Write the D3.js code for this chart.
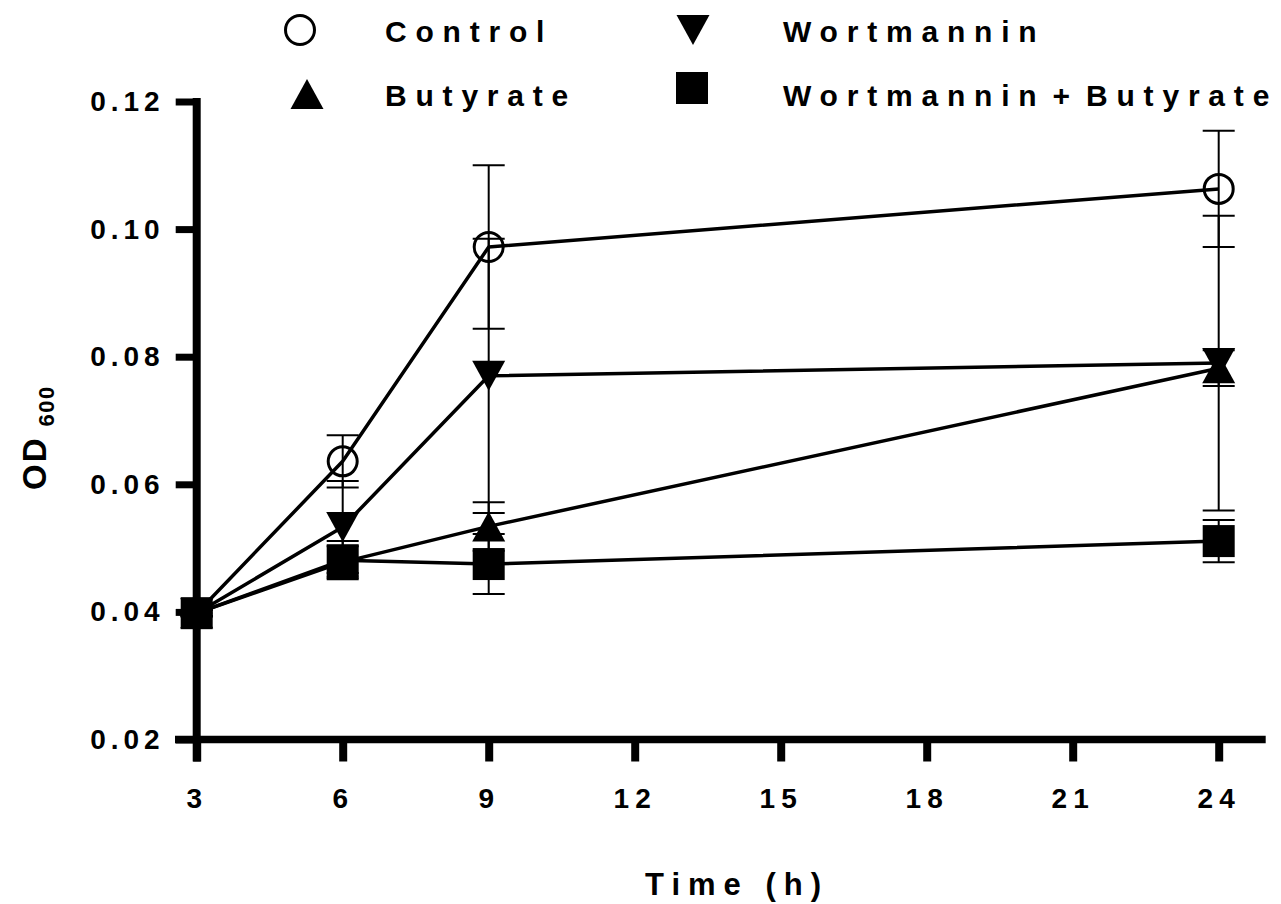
<!DOCTYPE html>
<html>
<head>
<meta charset="utf-8">
<script src="https://cdn.jsdelivr.net/npm/d3@7"></script>
<style>
  html, body { margin: 0; padding: 0; background: #fff; }
  svg { display: block; }
  text { font-family: "Liberation Sans", Arial, sans-serif; font-weight: bold; fill: #000; }
</style>
</head>
<body>
<svg id="chart" width="1281" height="904"></svg>
<script>
// ---- data ----
const times = [3, 6, 9, 24];
const seriesNames = ["Control", "Wortmannin", "Butyrate", "Wortmannin + Butyrate"];
const seriesShapes = ["circle", "down", "up", "square"];
const controlMean = [0.0398, 0.0636, 0.0972, 0.1063];
const controlSD   = [0.0005, 0.0041, 0.0128, 0.0091];
const wortMean    = [0.0398, 0.0533, 0.0770, 0.0790];
const wortSD      = [0.0005, 0.0072, 0.0215, 0.0231];
const butMean     = [0.0398, 0.0478, 0.0534, 0.0782];
const butSD       = [0.0005, 0.0025, 0.0038, 0.0028];
const wbMean      = [0.0398, 0.0481, 0.0475, 0.0511];
const wbSD        = [0.0005, 0.0030, 0.0047, 0.0033];
const xTicks = [3, 6, 9, 12, 15, 18, 21, 24];
const yTicks = [0.02, 0.04, 0.06, 0.08, 0.10, 0.12];

const means = [controlMean, wortMean, butMean, wbMean];
const sds = [controlSD, wortSD, butSD, wbSD];

const svg = d3.select("#chart");
const x = d3.scaleLinear().domain([3, 24]).range([196.7, 1218.7]);
const y = d3.scaleLinear().domain([0.02, 0.12]).range([739.5, 101.5]);

// ---- axes ----
const axisW = 8;
const yAxis = d3.axisLeft(y).tickValues(yTicks).tickSize(21).tickPadding(11)
  .tickFormat(d3.format(".2f"));
const gy = svg.append("g").attr("transform", `translate(${x.range()[0]},0)`).call(yAxis);
gy.select(".domain").remove();
gy.selectAll(".tick line").attr("stroke", "#000").attr("stroke-width", 7);
gy.selectAll(".tick text").attr("font-size", 28).attr("letter-spacing", "5px")
  .attr("dy", "0.32em").attr("fill", "#000");

const xAxis = d3.axisBottom(x).tickValues(xTicks).tickSize(22).tickPadding(27);
const gx = svg.append("g").attr("transform", `translate(0,${y.range()[0]})`).call(xAxis);
gx.select(".domain").remove();
gx.selectAll(".tick line").attr("stroke", "#000").attr("stroke-width", 8);
gx.selectAll(".tick text").attr("font-size", 28).attr("letter-spacing", "6px").attr("fill", "#000");

// axis lines
svg.append("line")
  .attr("x1", x.range()[0]).attr("x2", x.range()[0])
  .attr("y1", y.range()[1] - 3.5).attr("y2", y.range()[0] + 22)
  .attr("stroke", "#000").attr("stroke-width", axisW);
svg.append("line")
  .attr("x1", x.range()[0] - 21.7).attr("x2", x.range()[1] + 47)
  .attr("y1", y.range()[0]).attr("y2", y.range()[0])
  .attr("stroke", "#000").attr("stroke-width", 7.5);

// axis titles
svg.append("text").attr("x", 737).attr("y", 895).attr("text-anchor", "middle")
  .attr("font-size", 31).attr("letter-spacing", "8px").text("Time (h)");

const yt = svg.append("text").attr("transform", "translate(46,490) rotate(-90)")
  .attr("font-size", 33);
yt.append("tspan").attr("letter-spacing", "2px").text("OD");
yt.append("tspan").attr("font-size", 22).attr("dy", 8).attr("dx", 10)
  .attr("letter-spacing", "1.5px").text("600");

// ---- marker drawing ----
function marker(g, shape, cx, cy) {
  if (shape === "circle") {
    g.append("circle").attr("cx", cx).attr("cy", cy).attr("r", 14.5)
      .attr("fill", "none").attr("stroke", "#000").attr("stroke-width", 3);
  } else if (shape === "square") {
    g.append("rect").attr("x", cx - 16).attr("y", cy - 16).attr("width", 32).attr("height", 32)
      .attr("fill", "#000");
  } else if (shape === "up") {
    g.append("path").attr("d", `M${cx - 16.5},${cy + 15}L${cx + 16.5},${cy + 15}L${cx},${cy - 15}Z`)
      .attr("fill", "#000");
  } else if (shape === "down") {
    g.append("path").attr("d", `M${cx - 16.5},${cy - 15}L${cx + 16.5},${cy - 15}L${cx},${cy + 15}Z`)
      .attr("fill", "#000");
  }
}

// ---- error bars ----
const gErr = svg.append("g");
means.forEach((m, si) => {
  m.forEach((v, i) => {
    const sd = sds[si][i];
    const cx = x(times[i]);
    gErr.append("line").attr("x1", cx).attr("x2", cx)
      .attr("y1", y(v + sd)).attr("y2", y(v - sd))
      .attr("stroke", "#000").attr("stroke-width", 2);
    [v + sd, v - sd].forEach(e => {
      gErr.append("line").attr("x1", cx - 16).attr("x2", cx + 16)
        .attr("y1", y(e)).attr("y2", y(e))
        .attr("stroke", "#000").attr("stroke-width", 2);
    });
  });
});

// ---- lines ----
const lineGen = d3.line().x((d, i) => x(times[i])).y(d => y(d));
const gLines = svg.append("g");
means.forEach(m => {
  gLines.append("path").attr("d", lineGen(m)).attr("fill", "none")
    .attr("stroke", "#000").attr("stroke-width", 3.5).attr("stroke-linejoin", "round");
});

// ---- markers ----
const gMarks = svg.append("g");
means.forEach((m, si) => {
  m.forEach((v, i) => marker(gMarks, seriesShapes[si], x(times[i]), y(v)));
});

// ---- legend ----
const legendSym = [[300, 30], [693, 30], [307, 94], [692, 88]];
const legendText = [[385, 42], [783, 42], [385, 106], [783, 106]];
const gLeg = svg.append("g");
seriesNames.forEach((name, si) => {
  marker(gLeg, seriesShapes[si], legendSym[si][0], legendSym[si][1]);
  gLeg.append("text").attr("x", legendText[si][0]).attr("y", legendText[si][1])
    .attr("font-size", 30).attr("letter-spacing", "8.8px").attr("word-spacing", "-10px")
    .text(name);
});
</script>
</body>
</html>
